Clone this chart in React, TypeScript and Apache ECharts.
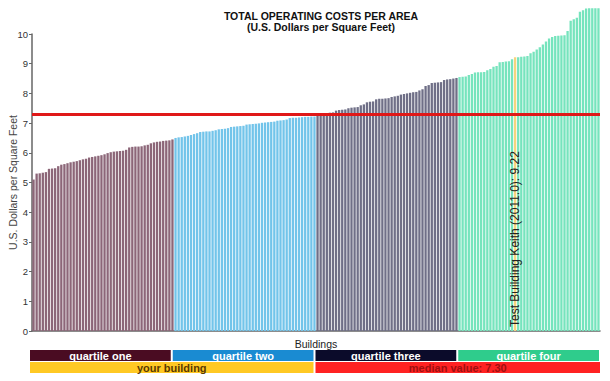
import React, { useEffect, useRef } from "react";
import * as echarts from "echarts";

const quartileOne = [
  5.1, 5.3, 5.31, 5.33, 5.35, 5.46, 5.47, 5.48, 5.55, 5.6,
  5.62, 5.65, 5.68, 5.7, 5.72, 5.75, 5.78, 5.8, 5.84, 5.86,
  5.88, 5.9, 5.92, 5.95, 5.99, 6.02, 6.04, 6.05, 6.06, 6.07,
  6.1, 6.18, 6.2, 6.21, 6.21, 6.22, 6.25, 6.27, 6.32, 6.35,
  6.37, 6.38, 6.4, 6.41, 6.42, 6.45,
];
const quartileTwo = [
  6.5, 6.52, 6.53, 6.55, 6.57, 6.6, 6.63, 6.66, 6.7, 6.71,
  6.72, 6.72, 6.74, 6.76, 6.79, 6.8, 6.81, 6.83, 6.87, 6.88,
  6.89, 6.9, 6.91, 6.95, 6.96, 6.97, 6.98, 6.99, 7.01, 7.02,
  7.03, 7.04, 7.05, 7.08, 7.09, 7.1, 7.12, 7.17, 7.18, 7.18,
  7.19, 7.2, 7.21, 7.21, 7.22, 7.22,
];
const quartileThree = [
  7.26, 7.28, 7.29, 7.3, 7.35, 7.36, 7.42, 7.44, 7.45, 7.46,
  7.5, 7.52, 7.53, 7.54, 7.6, 7.63, 7.7, 7.72, 7.73, 7.8,
  7.82, 7.82, 7.83, 7.84, 7.88, 7.9, 7.92, 7.96, 7.98, 8.0,
  8.02, 8.04, 8.05, 8.1, 8.14, 8.25, 8.28, 8.35, 8.36, 8.37,
  8.38, 8.45, 8.47, 8.48, 8.5, 8.52,
];
const quartileFour = [
  8.55, 8.56, 8.57, 8.62, 8.65, 8.7, 8.71, 8.71, 8.72, 8.78,
  8.82, 8.9, 8.92, 9.05, 9.06, 9.07, 9.08, 9.15, 9.22, 9.22,
  9.23, 9.24, 9.26, 9.35, 9.4, 9.48, 9.55, 9.65, 9.75, 9.85,
  9.9, 9.93, 9.94, 9.95, 9.96, 10.1, 10.45, 10.5, 10.55, 10.75,
  10.8, 10.86, 10.87, 10.87, 10.87, 10.87,
];
const quartileNames = ["quartile one", "quartile two", "quartile three", "quartile four"];
const quartileBarColors = ["#8c6678", "#72c4ea", "#6f6f87", "#76e4bd"];
const quartileLegendColors = ["#4a0c22", "#1a8bd2", "#0b0b2a", "#2fcc8c"];
const yourBuildingIndex = 156;
const yourBuildingName = "Test Building Keith (2011.0)";
const medianValue = 7.3;
const yTicks = [0, 1, 2, 3, 4, 5, 6, 7, 8, 9, 10];

const FONT = "'Liberation Sans', Arial, sans-serif";
const NARROW = "'Liberation Sans Narrow', 'Liberation Sans', Arial, sans-serif";

export default function App() {
  const ref = useRef<HTMLDivElement>(null);
  useEffect(() => {
    if (!ref.current) return;
    const chart = echarts.init(ref.current, null, { renderer: "svg" });
    const quartiles = [quartileOne, quartileTwo, quartileThree, quartileFour];
    const data: any[] = [];
    const categories: string[] = [];
    quartiles.forEach((q, qi) => {
      q.forEach((v) => {
        const idx = data.length;
        categories.push("Building " + (idx + 1));
        const item: any = { value: v, itemStyle: { color: quartileBarColors[qi] } };
        if (idx === yourBuildingIndex) {
          item.itemStyle = { color: "#f6d47e" };
          item.label = {
            show: true,
            rotate: 90,
            position: "insideBottom",
            align: "left",
            verticalAlign: "middle",
            distance: 4,
            formatter: yourBuildingName + ": " + v.toFixed(2),
            color: "#222",
            fontSize: 12,
            fontFamily: FONT,
          };
        }
        data.push(item);
      });
    });

    const left = 32, right = 600, top = 34, bottom = 331;
    const legLeft = 30, legRight = 601;
    const qW = (legRight - legLeft) / 4;
    const gap = 2;
    const row1Y = 350, row2Y = 362, rowH = 11;
    const graphics: any[] = [];
    quartileNames.forEach((name, i) => {
      graphics.push({
        type: "rect",
        shape: { x: legLeft + i * qW, y: row1Y, width: qW - gap, height: rowH },
        style: { fill: quartileLegendColors[i] },
        textContent: {
          style: { text: name, fill: "#fff", fontSize: 11, fontWeight: "bold", fontFamily: NARROW },
        },
        textConfig: { position: "inside" },
      });
    });
    graphics.push({
      type: "rect",
      shape: { x: legLeft, y: row2Y, width: 2 * qW - gap, height: rowH },
      style: { fill: "#ffc924" },
      textContent: {
        style: { text: "your building", fill: "#5a3a00", fontSize: 11, fontWeight: "bold", fontFamily: NARROW },
      },
      textConfig: { position: "inside" },
    });
    graphics.push({
      type: "rect",
      shape: { x: legLeft + 2 * qW, y: row2Y, width: 2 * qW - 1, height: rowH },
      style: { fill: "#ff2222" },
      textContent: {
        style: { text: "median value: " + medianValue.toFixed(2), fill: "#a01010", fontSize: 11, fontWeight: "bold", fontFamily: NARROW },
      },
      textConfig: { position: "inside" },
    });

    chart.setOption({
      animation: false,
      backgroundColor: "#fff",
      title: {
        text: "TOTAL OPERATING COSTS PER AREA",
        subtext: "(U.S. Dollars per Square Feet)",
        left: 316,
        textAlign: "center",
        top: 5,
        itemGap: 0,
        textStyle: { fontSize: 10.5, fontWeight: "bold", color: "#111", fontFamily: NARROW },
        subtextStyle: { fontSize: 10.5, fontWeight: "bold", color: "#111", fontFamily: NARROW },
      },
      grid: {
        left,
        right: 610 - right,
        top,
        bottom: 381 - bottom,
        containLabel: false,
        outerBoundsMode: "none",
      },
      xAxis: {
        type: "category",
        data: categories,
        name: "Buildings",
        nameLocation: "middle",
        nameGap: 7,
        nameTextStyle: { fontSize: 10.5, color: "#222", fontFamily: FONT },
        axisLine: { lineStyle: { color: "#666", width: 1.5 } },
        axisTick: { show: false },
        axisLabel: { show: false },
      },
      yAxis: {
        type: "value",
        min: yTicks[0],
        max: yTicks[yTicks.length - 1],
        interval: 1,
        name: "U.S. Dollars per Square Feet",
        nameLocation: "middle",
        nameGap: 14,
        nameMoveOverlap: false,
        nameTextStyle: { fontSize: 10.5, color: "#444", fontFamily: FONT },
        axisLine: { show: true, lineStyle: { color: "#666", width: 1.5 } },
        axisTick: { show: true, length: 3, lineStyle: { color: "#666" } },
        axisLabel: { fontSize: 9.5, color: "#333", margin: 4, fontFamily: FONT },
        splitLine: { show: false },
      },
      series: [
        {
          type: "bar",
          data,
          clip: false,
          barCategoryGap: "25%",
          markLine: {
            silent: true,
            symbol: "none",
            label: { show: false },
            lineStyle: { color: "#e01818", width: 3, type: "solid" },
            data: [{ yAxis: medianValue }],
          },
        },
      ],
      graphic: graphics,
    });
    return () => chart.dispose();
  }, []);
  return <div ref={ref} style={{ width: 610, height: 381, position: "absolute", left: 0, top: 0 }} />;
}
